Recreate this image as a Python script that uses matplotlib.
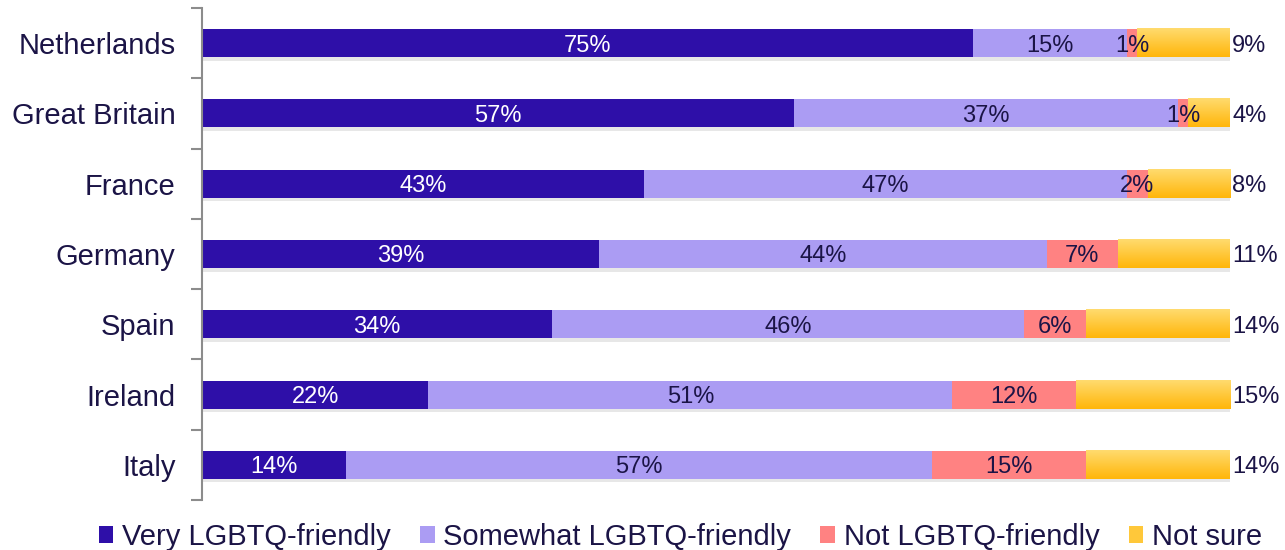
import matplotlib.pyplot as plt
import matplotlib.patheffects as pe
import numpy as np
from matplotlib.colors import LinearSegmentedColormap
from matplotlib.patches import Patch

plt.rcParams['font.family'] = ['Liberation Sans', 'DejaVu Sans']

# data
countries = ['Netherlands', 'Great Britain', 'France', 'Germany', 'Spain', 'Ireland', 'Italy']
very = [75, 57, 43, 39, 34, 22, 14]
somewhat = [15, 37, 47, 44, 46, 51, 57]
not_friendly = [1, 1, 2, 7, 6, 12, 15]
not_sure = [9, 4, 8, 11, 14, 15, 14]
series_names = ['Very LGBTQ-friendly', 'Somewhat LGBTQ-friendly', 'Not LGBTQ-friendly', 'Not sure']

colors = ['#2E0FA8', '#AB9CF3', '#FF8282', '#FFC83A']
txt_dark = '#1B1446'

fig = plt.figure(figsize=(12.85, 5.5), dpi=100)
ax = fig.add_axes([202 / 1285, 1 - 500 / 550, 1028 / 1285, 492 / 550])

data = np.array([very, somewhat, not_friendly, not_sure], dtype=float)
totals = data.sum(axis=0)
shares = data / totals * 100  # bars are drawn as 100% stacked

y = np.arange(len(countries))
h = 0.4
shadow = [pe.SimplePatchShadow(offset=(1, -2.5), shadow_rgbFace='#b0b0b0', alpha=0.3), pe.Normal()]
grad = LinearSegmentedColormap.from_list('gold', ['#FFDB6E', '#FFB60A'])

left = np.zeros(len(countries))
for i in range(4):
    bars = ax.barh(y, shares[i], left=left, height=h, color=colors[i], linewidth=0)
    for b in bars:
        b.set_path_effects(shadow)
    for j in range(len(countries)):
        x0 = left[j]
        w = shares[i][j]
        if i == 3:
            g = np.linspace(0, 1, 50).reshape(-1, 1)
            ax.imshow(g, cmap=grad, aspect='auto', extent=(x0, x0 + w, y[j] + h / 2, y[j] - h / 2),
                      origin='upper', zorder=3)
            ax.text(100.2, y[j], f'{int(data[i][j])}%', ha='left', va='center_baseline',
                    fontsize=17, color=txt_dark)
        else:
            ax.text(x0 + w / 2, y[j], f'{int(data[i][j])}%', ha='center', va='center_baseline',
                    fontsize=17, color='white' if i == 0 else txt_dark, zorder=5)
    left += shares[i]

ax.set_xlim(0, 100)
ax.set_ylim(len(countries) - 0.5, -0.5)
ax.set_yticks(y)
ax.set_yticklabels(countries, fontsize=21, color=txt_dark)
ax.set_yticks(np.arange(-0.5, len(countries)), minor=True)
ax.tick_params(axis='y', which='major', length=0, pad=19)
ax.tick_params(axis='y', which='minor', length=8, width=1.5, color='#8C8C8C')
ax.xaxis.set_visible(False)
for s in ['top', 'right', 'bottom']:
    ax.spines[s].set_visible(False)
ax.spines['left'].set_color('#8C8C8C')
ax.spines['left'].set_linewidth(1.5)

handles = [Patch(facecolor=c, edgecolor='none') for c in colors]
fig.legend(handles, series_names, loc='center', bbox_to_anchor=(0.5296, 0.024), ncol=4,
           frameon=False, fontsize=21, handlelength=0.5, handleheight=0.5,
           handletextpad=0.3, columnspacing=1.0, labelcolor=txt_dark,
           borderpad=0, borderaxespad=0)

fig.savefig('out.png', dpi=100)
